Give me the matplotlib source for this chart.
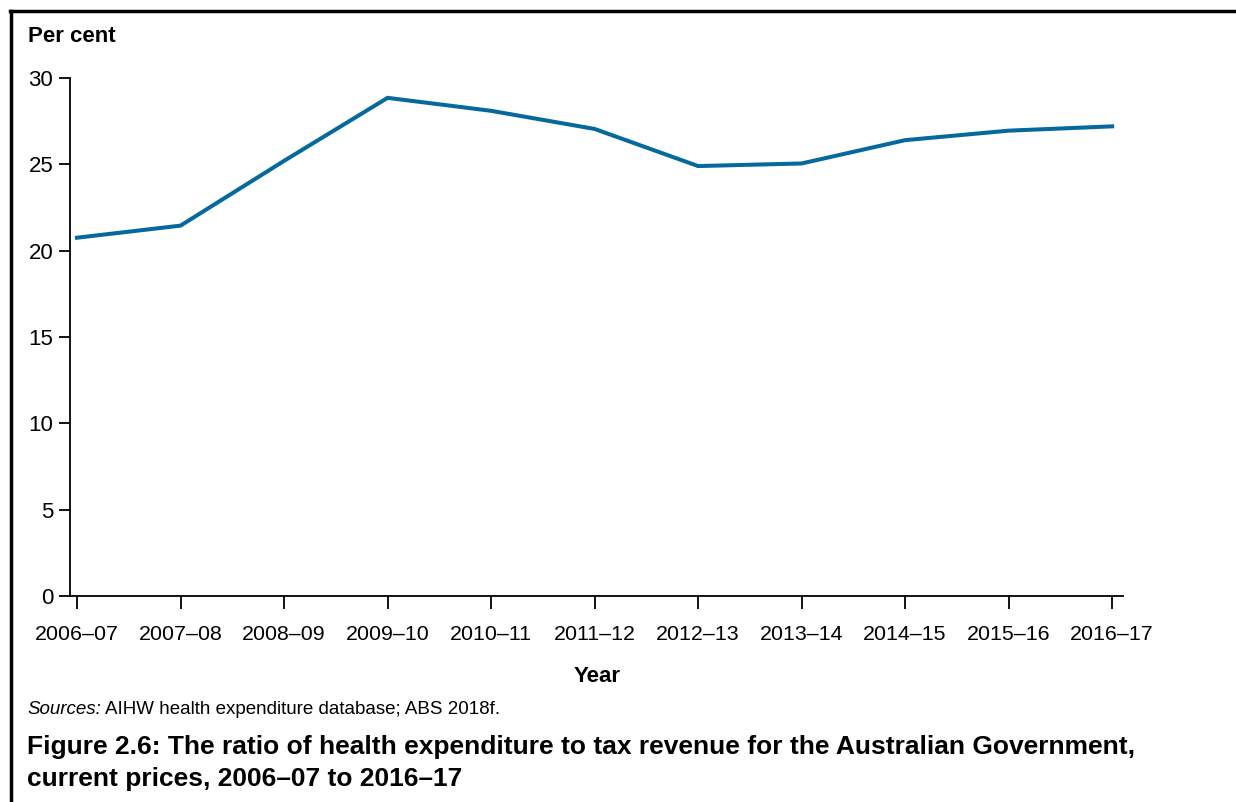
import matplotlib
matplotlib.use("Agg")
import matplotlib.pyplot as plt
from matplotlib.lines import Line2D

plt.rcParams['font.family'] = ['Liberation Sans', 'DejaVu Sans']

# data
years = ['2006–07', '2007–08', '2008–09', '2009–10', '2010–11', '2011–12',
         '2012–13', '2013–14', '2014–15', '2015–16', '2016–17']
ratio = [20.75, 21.45, 25.2, 28.85, 28.1, 27.05, 24.9, 25.05, 26.4, 26.95, 27.2]
yticks = [0, 5, 10, 15, 20, 25, 30]

W, H = 1236, 802
fig = plt.figure(figsize=(W / 100, H / 100), dpi=100)
ax = fig.add_axes([70 / W, 1 - 596 / H, (1123 - 70) / W, (596 - 78) / H])

x = list(range(len(years)))
ax.plot(x, ratio, color='#05699d', lw=2.9, solid_joinstyle='miter')

ax.set_xlim(-0.068, len(years) - 1 + 0.105)
ax.set_ylim(0, 30)
ax.set_xticks(x)
ax.set_xticklabels(years, fontsize=15.4)
ax.set_yticks(yticks)
ax.set_yticklabels([str(v) for v in yticks], fontsize=16)
ax.tick_params(axis='y', length=8, width=1.3, pad=4)
ax.tick_params(axis='x', length=9, width=1.3, pad=12)
for s in ['top', 'right']:
    ax.spines[s].set_visible(False)
for s in ['left', 'bottom']:
    ax.spines[s].set_linewidth(1.3)

# outer frame, only top and left visible in the reference
fig.add_artist(Line2D([10 / W, 1], [1 - 10.5 / H, 1 - 10.5 / H],
                      transform=fig.transFigure, color='black', lw=2.5))
fig.add_artist(Line2D([10.5 / W, 10.5 / W], [0, 1 - 10.5 / H],
                      transform=fig.transFigure, color='black', lw=2.5))

fig.text(28 / W, 1 - 37 / H, 'Per cent', fontsize=16, fontweight='bold',
         va='center', ha='left')
fig.text(597 / W, 1 - 677 / H, 'Year', fontsize=16, fontweight='bold',
         va='center', ha='center')

src = fig.text(27 / W, 1 - 709 / H, 'Sources:', fontsize=13.5, style='italic',
               va='center', ha='left')
fig.canvas.draw()
bb = src.get_window_extent(fig.canvas.get_renderer())
fig.text(bb.x1 / W + 4 / W, 1 - 709 / H, 'AIHW health expenditure database; ABS 2018f.',
         fontsize=13.5, va='center', ha='left')

fig.text(27 / W, 1 - 763 / H,
         'Figure 2.6: The ratio of health expenditure to tax revenue for the Australian Government,\n'
         'current prices, 2006–07 to 2016–17',
         fontsize=19, fontweight='bold', va='center', ha='left', linespacing=1.38)

fig.savefig('out.png', dpi=100)
